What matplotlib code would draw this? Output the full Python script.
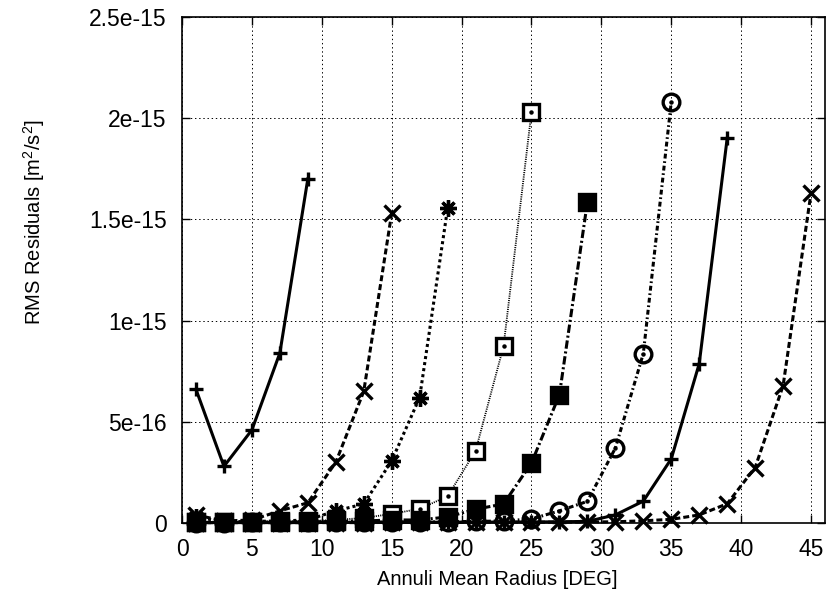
"""RMS residuals versus annuli mean radius, one curve per annulus set."""

import matplotlib

matplotlib.use("Agg")
import matplotlib.pyplot as plt
import numpy as np

# x positions are odd radii 1, 3, 5, ... ; each curve stops at a different radius
x_max = [9, 15, 19, 25, 29, 35, 39, 45]

s1_plus = [6.6e-16, 2.8e-16, 4.6e-16, 8.4e-16, 1.70e-15]
s2_cross = [4e-17, 1e-17, 1.5e-17, 6e-17, 1.0e-16, 3.0e-16, 6.5e-16, 1.53e-15]
s3_star = [3e-17, 5e-18, 8e-18, 1e-17, 1.5e-17, 6e-17, 9.4e-17, 3.07e-16, 6.2e-16, 1.555e-15]
s4_open_sq = [5e-18, 5e-18, 5e-18, 8e-18, 1e-17, 1.5e-17, 2.5e-17, 4.5e-17, 7e-17,
              1.32e-16, 3.56e-16, 8.73e-16, 2.03e-15]
s5_fill_sq = [3e-18, 3e-18, 5e-18, 5e-18, 5e-18, 8e-18, 1e-17, 1.5e-17, 1.5e-17, 3e-17,
              6.8e-17, 9.4e-17, 2.96e-16, 6.34e-16, 1.586e-15]
s6_circle = [2e-18, 2e-18, 3e-18, 3e-18, 3e-18, 4e-18, 4e-18, 5e-18, 5e-18, 6e-18, 8e-18,
             1e-17, 2e-17, 6e-17, 1.07e-16, 3.7e-16, 8.37e-16, 2.08e-15]
s7_plus = [2e-18, 2e-18, 2e-18, 2e-18, 2e-18, 3e-18, 3e-18, 3e-18, 3e-18, 4e-18, 4e-18,
           5e-18, 5e-18, 6e-18, 8e-18, 4e-17, 1.08e-16, 3.17e-16, 7.87e-16, 1.90e-15]
s8_cross = [2e-18, 2e-18, 2e-18, 2e-18, 2e-18, 2e-18, 2e-18, 3e-18, 3e-18, 3e-18, 3e-18,
            4e-18, 4e-18, 4e-18, 5e-18, 6e-18, 1.1e-17, 1.8e-17, 4e-17, 9.5e-17, 2.74e-16,
            6.78e-16, 1.632e-15]

x_ticks = [0, 5, 10, 15, 20, 25, 30, 35, 40, 45]
y_ticks = [0, 5e-16, 1e-15, 1.5e-15, 2e-15, 2.5e-15]
y_tick_labels = ["0", "5e-16", "1e-15", "1.5e-15", "2e-15", "2.5e-15"]

# gnuplot-like '*' : plus and cross on top of each other
STAR = (8, 2, 0)

styles = [
    dict(marker="+", ms=10.5, ls="-", lw=2.2),
    dict(marker="x", ms=12, ls=(0, (4.3, 2.2)), lw=2.2),
    dict(marker=STAR, ms=12, ls=(0, (2.2, 2.2)), lw=2.2),
    dict(marker="s", ms=11, ls=(0, (0.8, 0.8)), lw=1.3, mfc="white"),
    dict(marker="s", ms=12, ls=(0, (6, 2, 1.5, 2)), lw=2.2, mfc="black"),
    dict(marker="o", ms=12, ls=(0, (3.5, 2, 1.2, 2)), lw=2.2, mfc="none"),
    dict(marker="+", ms=10.5, ls="-", lw=2.2),
    dict(marker="x", ms=12, ls=(0, (4.3, 2.2)), lw=2.2),
]


def apply_style() -> None:
    plt.rcParams.update(
        {
            "font.family": ["Liberation Sans", "DejaVu Sans"],
            "font.size": 14.5,
            "mathtext.default": "regular",
            "lines.scale_dashes": False,
            "axes.linewidth": 1.2,
        }
    )


def main() -> None:
    apply_style()
    fig = plt.figure(figsize=(8.3, 5.98), dpi=100)
    ax = fig.add_axes([0.2193, 0.1254, 0.7747, 0.8462])

    series = [s1_plus, s2_cross, s3_star, s4_open_sq, s5_fill_sq, s6_circle, s7_plus, s8_cross]
    for vals, xm, st in zip(series, x_max, styles):
        x = np.arange(1, xm + 1, 2)
        ax.plot(x, vals, color="black", marker=st["marker"], markersize=st["ms"],
                markeredgewidth=2.4, markerfacecolor=st.get("mfc", "black"),
                markeredgecolor="black", linestyle=st["ls"], linewidth=st["lw"],
                clip_on=False, zorder=3)
        if st["marker"] in ("s", "o") and st.get("mfc") != "black":
            ax.plot(x, vals, linestyle="none", marker="o", markersize=2.2,
                    color="black", clip_on=False, zorder=4)

    ax.set_xlim(0, 46)
    ax.set_ylim(0, 2.5e-15)
    ax.set_xticks(x_ticks)
    ax.set_yticks(y_ticks)
    ax.set_yticklabels(y_tick_labels)
    ax.tick_params(direction="in", length=6, width=1.0, pad=11,
                   top=True, right=True, labelsize=16.5)
    ax.grid(True, color="black", linestyle=(0, (1, 2)), linewidth=0.7)
    ax.set_axisbelow(True)

    ax.set_xlabel("Annuli Mean Radius [DEG]")
    ax.set_ylabel("RMS Residuals [m$^2$/s$^2$]")
    ax.xaxis.set_label_coords(0.49, -0.092)
    ax.yaxis.set_label_coords(-0.21, 0.595)

    fig.savefig("out.png", dpi=100)


if __name__ == "__main__":
    main()
